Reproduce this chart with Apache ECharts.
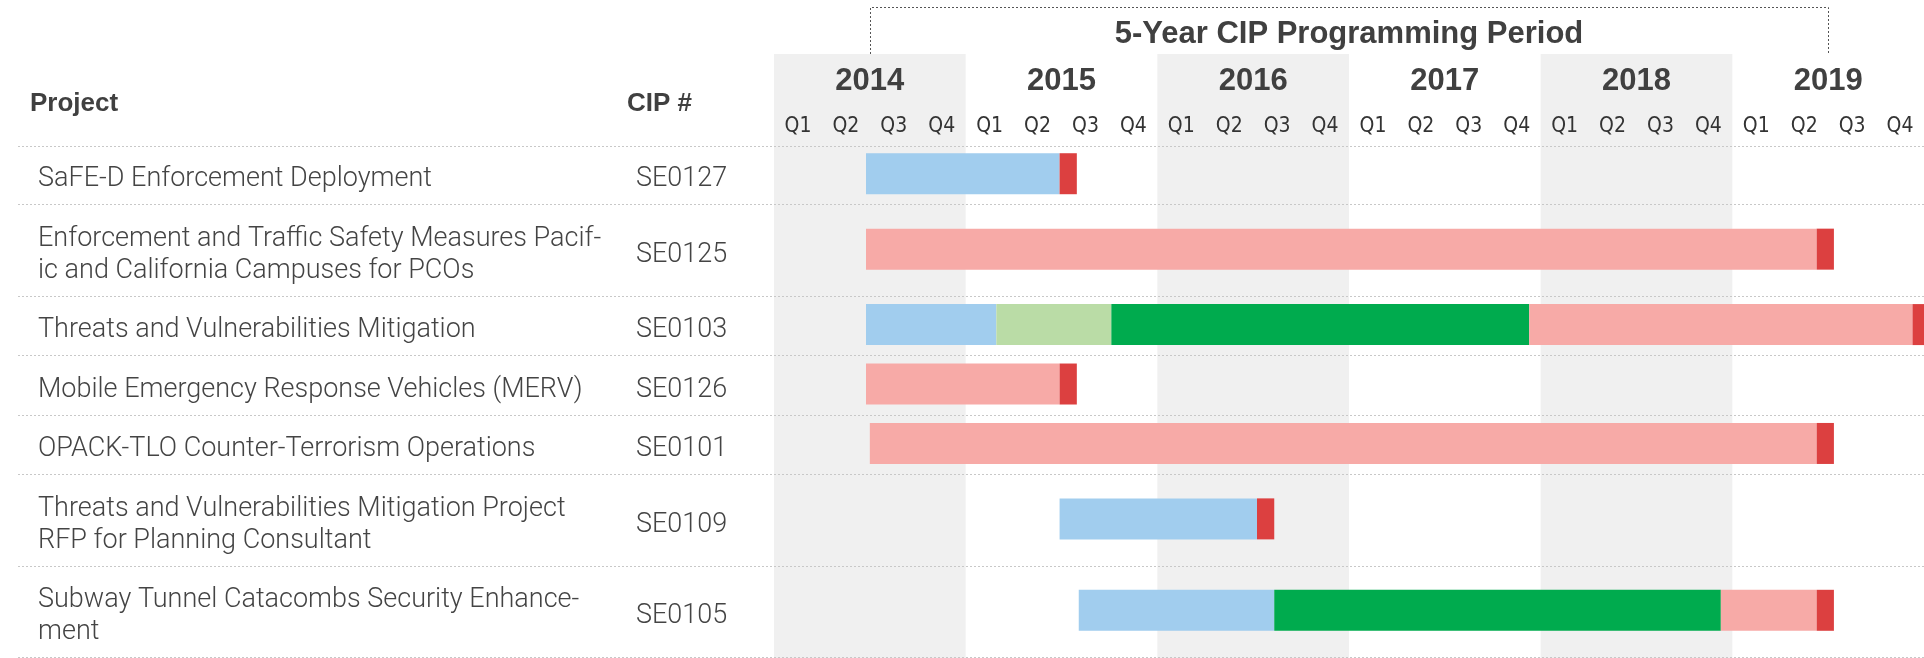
<!DOCTYPE html>
<html>
<head>
<meta charset="utf-8">
<script src="https://cdn.jsdelivr.net/npm/echarts@6/dist/echarts.min.js"></script>
<style>
  html, body { margin: 0; padding: 0; background: #fff; }
  #main { width: 1924px; height: 658px; }
</style>
</head>
<body>
<div id="main"></div>
<script>
// timeline ticks
const years = ['2014', '2015', '2016', '2017', '2018', '2019'];
const quarters = ['Q1', 'Q2', 'Q3', 'Q4'];
const quarterKeys = years.flatMap(y => quarters.map(q => y + '-' + q));
const shadedYears = [2014, 2016, 2018];
const periodStart = 2014.5;
const periodEnd = 2019.5;
const periodTitle = '5-Year CIP Programming Period';

// table
const projects = [
    'SaFE-D Enforcement Deployment',
    'Enforcement and Traffic Safety Measures Pacif-\nic and California Campuses for PCOs',
    'Threats and Vulnerabilities Mitigation',
    'Mobile Emergency Response Vehicles (MERV)',
    'OPACK-TLO Counter-Terrorism Operations',
    'Threats and Vulnerabilities Mitigation Project\nRFP for Planning Consultant',
    'Subway Tunnel Catacombs Security Enhance-\nment'
];
const cipNumbers = ['SE0127', 'SE0125', 'SE0103', 'SE0126', 'SE0101', 'SE0109', 'SE0105'];

// phase segments: [start, end, row]
const planning = [[2014.48, 2015.49, 0], [2014.48, 2015.16, 2], [2015.49, 2016.52, 5], [2015.59, 2016.61, 6]];
const design = [[2015.16, 2015.76, 2]];
const construction = [[2015.76, 2017.94, 2], [2016.61, 2018.94, 6]];
const programmed = [[2014.48, 2019.44, 1], [2017.94, 2019.94, 2], [2014.48, 2015.49, 3], [2014.50, 2019.44, 4], [2018.94, 2019.44, 6]];
const closeout = [[2015.49, 2015.58, 0], [2019.44, 2019.53, 1], [2019.94, 2020.0, 2], [2015.49, 2015.58, 3], [2019.44, 2019.53, 4], [2016.52, 2016.61, 5], [2019.44, 2019.53, 6]];

const myChart = echarts.init(document.getElementById('main'));

const lightFont = 'Roboto, "Liberation Sans", sans-serif';
const boldFont = '"Liberation Sans", Arial, sans-serif';
const narrowFont = '"Liberation Sans Narrow", "DejaVu Sans Condensed", sans-serif';

// row heights follow the number of text lines in the project name
const rowHeights = projects.map(p => 27.5 + 32 * p.split('\n').length);
const rowTops = [];
let acc = 0;
rowHeights.forEach(h => { rowTops.push(acc); acc += h; });
const totalH = acc;

function barSeries(name, data, color) {
    return {
        name: name,
        type: 'custom',
        xAxisIndex: 0,
        yAxisIndex: 0,
        data: data,
        encode: { x: [0, 1] },
        z: 3,
        renderItem: function (params, api) {
            const row = api.value(2);
            const mid = rowTops[row] + rowHeights[row] / 2;
            const p0 = api.coord([api.value(0), mid]);
            const p1 = api.coord([api.value(1), mid]);
            const h = 41;
            return {
                type: 'rect',
                shape: { x: p0[0], y: p0[1] - h / 2 - 2, width: p1[0] - p0[0], height: h },
                style: { fill: color }
            };
        }
    };
}

const option = {
    animation: false,
    grid: { left: 774, top: 146, width: 1153, height: totalH },
    xAxis: [
        { type: 'value', min: 2014, max: 2020, show: false },
        {
            type: 'category', data: years, position: 'top', offset: 41, gridIndex: 0,
            axisLine: { show: false }, axisTick: { show: false }, splitLine: { show: false },
            axisLabel: { fontFamily: boldFont, fontWeight: 'bold', fontSize: 31, color: '#404040', margin: 8 }
        },
        {
            type: 'category', data: quarterKeys, position: 'top', offset: 0, gridIndex: 0,
            axisLine: { show: false }, axisTick: { show: false }, splitLine: { show: false },
            axisLabel: {
                interval: 0, fontFamily: narrowFont, fontSize: 21, color: '#333', margin: 9,
                formatter: v => v.split('-')[1]
            }
        }
    ],
    yAxis: { type: 'value', inverse: true, min: 0, max: totalH, show: false },
    graphic: [
        { type: 'text', left: 30, top: 91, style: { text: 'Project', font: 'bold 26px ' + boldFont, fill: '#404040' } },
        { type: 'text', left: 627, top: 91, style: { text: 'CIP #', font: 'bold 26px ' + boldFont, fill: '#404040' } }
    ],
    series: [
        {
            // shaded year columns
            type: 'custom', data: shadedYears.map(y => [y]), encode: { x: 0 }, z: 0, silent: true,
            renderItem: function (params, api) {
                const x0 = api.coord([api.value(0), 0])[0];
                const x1 = api.coord([api.value(0) + 1, 0])[0];
                const yb = api.coord([2014, totalH])[1];
                return { type: 'rect', shape: { x: x0, y: 54, width: x1 - x0, height: yb - 54 }, style: { fill: '#f0f0f0' } };
            }
        },
        {
            // programming period bracket and title
            type: 'custom', data: [[periodStart, periodEnd]], encode: { x: [0, 1] }, z: 2, silent: true,
            renderItem: function (params, api) {
                const xa = Math.round(api.coord([api.value(0), 0])[0]) + 0.5;
                const xb = Math.round(api.coord([api.value(1), 0])[0]) + 0.5;
                const xm = api.coord([(api.value(0) + api.value(1)) / 2, 0])[0];
                const ls = { stroke: '#555', lineWidth: 1, lineDash: [2, 2], fill: null };
                return {
                    type: 'group',
                    children: [
                        { type: 'polyline', shape: { points: [[xa, 54], [xa, 7.5], [xb, 7.5], [xb, 54]] }, style: ls },
                        { type: 'text', style: { text: periodTitle, x: xm, y: 34, align: 'center', verticalAlign: 'middle', font: 'bold 31px ' + boldFont, fill: '#404040' } }
                    ]
                };
            }
        },
        {
            // table rows: names, CIP numbers, dotted separators
            type: 'custom', data: projects.map((p, i) => [2014, i]), encode: { x: 0 }, z: 4, silent: true,
            renderItem: function (params, api) {
                const i = params.dataIndex;
                const top = api.coord([2014, rowTops[i]])[1];
                const bottom = api.coord([2014, rowTops[i] + rowHeights[i]])[1];
                const mid = (top + bottom) / 2 + 4;
                const w = api.getWidth();
                const ls = { stroke: '#c8c8c8', lineWidth: 1, lineDash: [2, 2] };
                const children = [
                    { type: 'text', style: { text: projects[i], x: 38, y: mid, verticalAlign: 'middle', lineHeight: 32, font: '300 27px ' + lightFont, fill: '#444' } },
                    { type: 'text', style: { text: cipNumbers[i], x: 636, y: mid, verticalAlign: 'middle', font: '300 27px ' + lightFont, fill: '#444' } },
                    { type: 'line', shape: { x1: 18, y1: Math.round(bottom) - 0.5, x2: w, y2: Math.round(bottom) - 0.5 }, style: ls }
                ];
                if (i === 0) {
                    children.push({ type: 'line', shape: { x1: 18, y1: Math.round(top) + 0.5, x2: w, y2: Math.round(top) + 0.5 }, style: ls });
                }
                return { type: 'group', children: children };
            }
        },
        barSeries('Planning', planning, '#a1cdee'),
        barSeries('Design', design, '#badca6'),
        barSeries('Construction', construction, '#00ab4e'),
        barSeries('Programmed', programmed, '#f7aaa7'),
        barSeries('Closeout', closeout, '#dc4040')
    ]
};

myChart.setOption(option);
</script>
</body>
</html>
